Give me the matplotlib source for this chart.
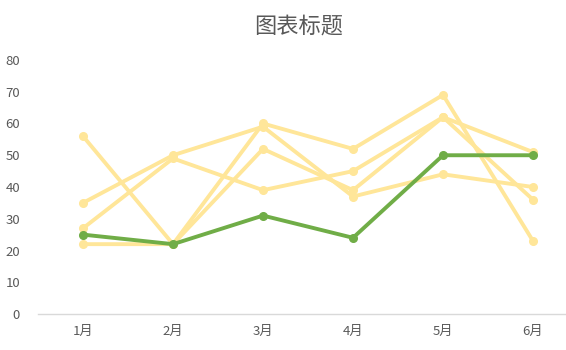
import matplotlib
matplotlib.use("Agg")
import matplotlib.pyplot as plt

plt.rcParams['font.family'] = ['Noto Sans CJK SC', 'DejaVu Sans']

categories = ["1月", "2月", "3月", "4月", "5月", "6月"]
series_yellow = [
    [56, 22, 60, 52, 69, 23],
    [22, 22, 52, 39, 62, 36],
    [35, 50, 59, 37, 44, 40],
    [27, 49, 39, 45, 62, 51],
]
series_green = [25, 22, 31, 24, 50, 50]
yticks = [0, 10, 20, 30, 40, 50, 60, 70, 80]
title = "图表标题"

fig = plt.figure(figsize=(5.66, 3.5), dpi=100)
ax = fig.add_axes([38/566, 36/350, 540/566, 254/350])

x = list(range(len(categories)))
for s in series_yellow:
    ax.plot(x, s, color="#FFE699", lw=2.8, marker="o", ms=5.5, solid_capstyle="round")
ax.plot(x, series_green, color="#70AD47", lw=2.8, marker="o", ms=5.5, zorder=5)

ax.set_xlim(-0.5, len(categories) - 0.5)
ax.set_ylim(0, 80)
ax.set_yticks(yticks)
ax.set_xticks(x)
ax.set_xticklabels(categories)
for sp in ["top", "right", "left"]:
    ax.spines[sp].set_visible(False)
ax.spines["bottom"].set_color("#D9D9D9")
ax.spines["bottom"].set_linewidth(1)
ax.tick_params(axis="y", length=0, pad=13, labelsize=9.5, labelcolor="#595959")
ax.tick_params(axis="x", length=0, pad=8, labelsize=9.5, labelcolor="#595959")

fig.text(299/566, 1 - 26/350, title, ha="center", va="center", fontsize=16, color="#595959")

fig.savefig("out.png", dpi=100)
